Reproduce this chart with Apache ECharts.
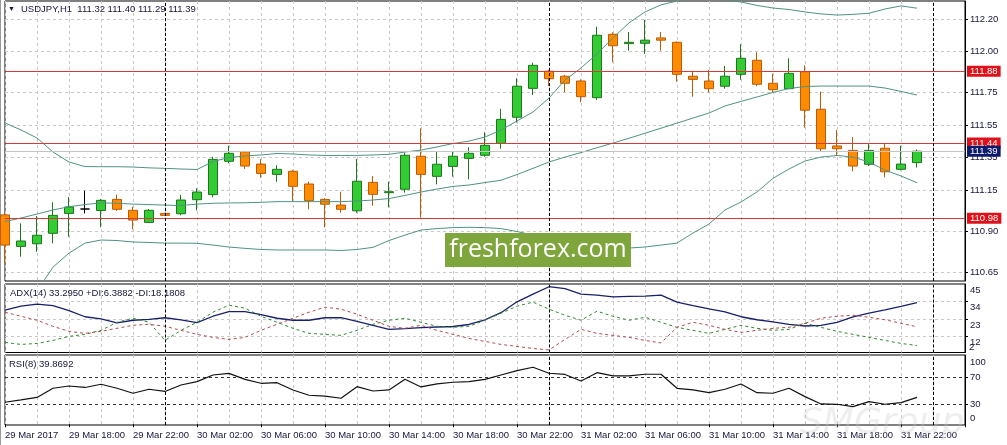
<!DOCTYPE html>
<html>
<head>
<meta charset="utf-8">
<script src="https://cdn.jsdelivr.net/npm/echarts@6/dist/echarts.min.js"></script>
<style>
html,body{margin:0;padding:0;background:#fff;}
#chart{width:1007px;height:445px;}
</style>
</head>
<body>
<div id="chart"></div>
<script>
// ---------- data ----------
const timeLabels = ['29 Mar 2017','29 Mar 18:00','29 Mar 22:00','30 Mar 02:00','30 Mar 06:00','30 Mar 10:00','30 Mar 14:00','30 Mar 18:00','30 Mar 22:00','31 Mar 02:00','31 Mar 06:00','31 Mar 10:00','31 Mar 14:00','31 Mar 18:00','31 Mar 22:00'];
const slotCount = 61; // hourly slots from 29 Mar 14:00 (58 candles + empty right margin)
const daySeparators = [10, 34, 58];

const opens  = [111.000,110.807,110.823,110.887,111.009,111.036,111.027,111.095,111.028,110.954,111.009,111.007,111.093,111.124,111.328,111.387,111.311,111.248,111.267,111.189,111.095,111.060,111.025,111.199,111.136,111.157,111.359,111.236,111.297,111.346,111.365,111.438,111.598,111.775,111.880,111.849,111.820,111.718,112.106,112.049,112.051,112.084,112.057,111.849,111.820,111.788,111.861,111.947,111.806,111.773,111.877,111.647,111.422,111.395,111.310,111.408,111.279,111.320];
const highs  = [111.010,110.948,110.993,111.077,111.109,111.148,111.097,111.124,111.050,111.036,111.012,111.122,111.163,111.356,111.424,111.392,111.342,111.304,111.275,111.203,111.103,111.142,111.342,111.238,111.203,111.381,111.530,111.391,111.391,111.414,111.506,111.649,111.837,111.932,111.888,111.857,111.830,112.153,112.118,112.120,112.194,112.120,112.062,111.883,111.888,111.912,112.045,111.996,111.865,111.959,111.916,111.755,111.520,111.477,111.436,111.436,111.424,111.400];
const lows   = [110.705,110.744,110.774,110.826,110.866,111.009,110.924,111.025,110.911,110.950,110.994,110.997,111.028,111.108,111.316,111.281,111.228,111.203,111.085,111.034,110.924,111.013,111.013,111.056,111.046,111.136,110.983,111.187,111.234,111.218,111.356,111.405,111.565,111.734,111.790,111.751,111.690,111.704,111.935,112.006,111.986,112.006,111.816,111.724,111.751,111.773,111.828,111.788,111.751,111.771,111.534,111.391,111.361,111.267,111.299,111.230,111.273,111.290];
const closes = [110.815,110.840,110.875,110.997,111.048,111.036,111.089,111.034,110.968,111.028,110.997,111.091,111.140,111.340,111.377,111.299,111.254,111.279,111.175,111.087,111.065,111.034,111.206,111.126,111.142,111.365,111.248,111.310,111.359,111.377,111.426,111.585,111.788,111.916,111.834,111.806,111.724,112.100,112.036,112.057,112.070,112.070,111.861,111.830,111.773,111.849,111.959,111.800,111.767,111.867,111.641,111.405,111.405,111.299,111.395,111.264,111.311,111.390];

const bbUpper  = [111.563,111.520,111.471,111.385,111.324,111.296,111.295,111.295,111.293,111.288,111.285,111.281,111.278,111.327,111.351,111.361,111.367,111.376,111.373,111.367,111.364,111.364,111.364,111.367,111.371,111.385,111.397,111.416,111.437,111.452,111.477,111.520,111.575,111.630,111.716,111.826,111.900,111.986,112.084,112.176,112.243,112.286,112.310,112.323,112.329,112.316,112.304,112.283,112.267,112.258,112.243,112.231,112.224,112.228,112.235,112.261,112.280,112.266];
const bbMiddle = [110.959,110.981,111.005,111.030,111.050,111.063,111.074,111.071,111.066,111.063,111.060,111.057,111.066,111.071,111.073,111.074,111.077,111.081,111.081,111.081,111.081,111.081,111.085,111.091,111.100,111.119,111.140,111.158,111.174,111.183,111.198,111.212,111.247,111.285,111.324,111.354,111.382,111.411,111.440,111.469,111.500,111.531,111.562,111.593,111.624,111.667,111.695,111.722,111.750,111.774,111.786,111.789,111.789,111.789,111.789,111.777,111.756,111.734];
const bbLower  = [110.294,110.417,110.533,110.680,110.766,110.827,110.846,110.843,110.834,110.831,110.827,110.827,110.826,110.815,110.803,110.795,110.788,110.785,110.785,110.785,110.785,110.782,110.788,110.801,110.843,110.876,110.907,110.916,110.922,110.924,110.922,110.916,110.898,110.876,110.858,110.840,110.827,110.815,110.803,110.797,110.803,110.815,110.827,110.889,110.944,111.030,111.079,111.140,111.224,111.281,111.330,111.354,111.364,111.354,111.324,111.275,111.238,111.197];

const adx     = [28.56,31.09,32.35,31.40,28.24,24.45,23.06,20.53,22.24,22.74,23.82,22.42,20.78,24.76,27.61,27.61,25.71,23.50,22.24,22.24,23.82,23.82,21.60,19.07,16.54,16.99,17.62,18.00,18.31,19.58,22.55,26.98,33.81,38.68,43.29,42.15,38.68,38.04,36.97,37.22,37.41,38.04,33.62,31.40,29.38,27.48,24.45,22.55,21.16,19.71,18.63,19.07,20.97,24.32,26.66,28.75,30.96,33.30];
const plusDI  = [8.32,7.06,7.69,9.59,12.12,13.38,15.91,20.97,23.50,20.97,9.59,15.91,20.97,27.29,31.72,29.82,24.76,20.97,17.18,14.01,13.38,12.75,15.91,19.71,22.24,23.50,20.97,18.44,17.81,18.44,22.24,26.66,31.09,33.62,29.19,25.40,22.24,27.93,24.76,22.24,24.13,20.97,17.81,15.91,14.01,16.54,19.07,17.18,15.91,16.54,20.34,17.81,15.28,13.38,11.49,9.59,7.69,6.39];
const minusDI = [27.29,24.76,22.24,18.44,15.28,14.01,15.28,17.18,19.07,19.71,18.44,15.91,13.38,11.49,10.22,11.49,15.91,19.71,23.50,27.29,30.46,29.19,26.03,22.24,18.44,17.18,19.07,15.91,13.38,10.85,8.96,7.06,5.79,4.53,3.58,10.22,16.54,14.01,12.75,11.49,9.59,8.01,17.81,20.97,19.07,16.54,14.65,15.91,17.18,17.81,20.34,23.50,24.76,25.40,24.13,22.55,20.34,18.18];
const rsi     = [32.6,36.0,39.7,53.3,56.7,54.5,59.3,53.3,45.9,51.9,48.6,58.2,63.1,73.0,75.3,66.4,60.7,61.6,50.8,43.0,41.6,38.5,55.7,49.3,50.8,66.7,55.3,59.7,62.2,63.1,66.4,73.0,79.4,84.4,75.6,73.8,64.1,76.4,71.6,71.6,74.1,74.1,53.3,50.8,46.8,51.9,59.7,46.8,45.9,53.3,40.9,30.1,29.6,26.1,33.5,29.6,32.0,39.87];

const priceTicks = [112.20, 112.00, 111.75, 111.55, 111.35, 111.15, 110.90, 110.65];
const adxTicks = [45, 34, 23, 12];
const adxMinLabel = 2;
const rsiTicks = [100, 70, 30, 0];
const rsiLevels = [70, 30];
const redLevels = [111.88, 111.44, 110.98];
const bidPrice = 111.39;

const headerText = 'USDJPY,H1  111.32 111.40 111.29 111.39';
const adxText = 'ADX(14) 33.2950 +DI:6.3882 -DI:18.1808';
const rsiText = 'RSI(8) 39.8692';

// ---------- chart ----------
const FONT = 'Tahoma, "Liberation Sans", Arial, sans-serif';
const TXT = '#16163a';
const FS = 9.5;
const slots = Array.from({length: slotCount}, (_, i) => String(i));
const candleData = opens.map((o, i) => [o, closes[i], lows[i], highs[i]]);

const gridLine = {show: true, lineStyle: {color: '#c8c8c8', type: [3, 3], width: 1}};
const sepLines = daySeparators.map(x => ({xAxis: x, lineStyle: {color: '#000', type: [3, 2], width: 1}, label: {show: false}}));

const chart = echarts.init(document.getElementById('chart'), null, {renderer: 'canvas'});

const grids = [
  {left: 5, right: 42, top: 1, height: 280},
  {left: 5, right: 42, top: 284, height: 68.5},
  {left: 5, right: 42, top: 355, height: 70}
].map(g => Object.assign(g, {show: true, borderColor: '#000', borderWidth: 1, backgroundColor: 'transparent'}));

const xAxes = [0, 1, 2].map(i => ({
  type: 'category', gridIndex: i, data: slots, boundaryGap: false,
  axisLine: {show: false},
  axisTick: {show: i === 2, interval: 3, length: 3, lineStyle: {color: '#000'}},
  axisLabel: {
    show: i === 2, interval: 3, align: 'left', margin: 5,
    fontFamily: FONT, fontSize: FS, color: TXT,
    formatter: (v, idx) => timeLabels[idx / 4] || ''
  },
  splitLine: Object.assign({interval: 1}, gridLine)
}));

const rich = {
  t: {padding: [12, 0, 0, 0], fontFamily: FONT, fontSize: FS, color: TXT},
  b: {padding: [0, 0, 12, 0], fontFamily: FONT, fontSize: FS, color: TXT},
  m: {fontFamily: FONT, fontSize: FS, color: TXT}
};

const yAxes = [
  {
    type: 'value', gridIndex: 0, position: 'right', min: 110.595, max: 112.310,
    axisLine: {show: true, lineStyle: {color: '#000'}},
    axisTick: {show: true, length: 3, customValues: priceTicks, lineStyle: {color: '#000'}},
    axisLabel: {customValues: priceTicks, margin: 5, fontFamily: FONT, fontSize: FS, color: TXT, formatter: v => v.toFixed(2)},
    splitLine: gridLine
  },
  {
    type: 'value', gridIndex: 1, position: 'right', min: 2, max: 45,
    axisLine: {show: true, lineStyle: {color: '#000'}},
    axisTick: {show: true, length: 3, customValues: [34, 23, 12], lineStyle: {color: '#000'}},
    axisLabel: {customValues: adxTicks, margin: 5, rich: rich, formatter: v => '{t|' + v + '}'},
    splitLine: gridLine
  },
  {
    type: 'value', gridIndex: 2, position: 'right', min: -1.1, max: 102.6,
    axisLine: {show: true, lineStyle: {color: '#000'}},
    axisTick: {show: true, length: 3, customValues: rsiLevels, lineStyle: {color: '#000'}},
    axisLabel: {
      customValues: rsiTicks, margin: 5, rich: rich,
      formatter: v => v === rsiTicks[0] ? '{t|' + v + '}' : (v === rsiTicks[rsiTicks.length - 1] ? '{b|' + v + '}' : '{m|' + v + '}')
    },
    splitLine: {show: true, lineStyle: {color: '#333', type: [3, 3], width: 1}}
  }
];

const levelBox = (v, bg, lineColor) => ({
  yAxis: v,
  lineStyle: {color: lineColor, type: 'solid', width: 1},
  label: {
    show: true, position: 'end', distance: 2, formatter: v.toFixed(2),
    backgroundColor: bg, color: '#fff', padding: [1, 3, 0, 3], lineHeight: 10,
    fontFamily: FONT, fontSize: FS
  }
});

const bbStyle = {color: '#4f9384', width: 1};

const series = [
  {
    type: 'candlestick', xAxisIndex: 0, yAxisIndex: 0, data: candleData, barWidth: 10,
    itemStyle: {
      color: '#33cc33', color0: '#ff8c00',
      borderColor: '#1d761d', borderColor0: '#b85c0a', borderColorDoji: '#000',
      borderWidth: 1
    },
    markLine: {
      silent: true, symbol: ['none', 'none'], animation: false,
      data: [
        {yAxis: bidPrice, lineStyle: {color: '#c4c4c4', type: 'solid', width: 1}, label: {show: false}},
        ...redLevels.map(v => levelBox(v, '#e01018', '#d83a3a')),
        {yAxis: bidPrice, lineStyle: {color: 'rgba(0,0,0,0)', width: 0},
          label: {show: true, position: 'end', distance: 2, formatter: bidPrice.toFixed(2),
            backgroundColor: '#0c1a6e', color: '#fff', padding: [1, 3, 0, 3], lineHeight: 10,
            fontFamily: FONT, fontSize: FS}},
        ...sepLines
      ]
    }
  },
  {type: 'line', xAxisIndex: 0, yAxisIndex: 0, data: bbUpper, symbol: 'none', lineStyle: bbStyle, silent: true},
  {type: 'line', xAxisIndex: 0, yAxisIndex: 0, data: bbMiddle, symbol: 'none', lineStyle: bbStyle, silent: true},
  {type: 'line', xAxisIndex: 0, yAxisIndex: 0, data: bbLower, symbol: 'none', lineStyle: bbStyle, silent: true},
  {
    type: 'line', xAxisIndex: 1, yAxisIndex: 1, data: adx, symbol: 'none',
    lineStyle: {color: '#18206a', width: 1.3}, silent: true,
    markLine: {silent: true, symbol: ['none', 'none'], animation: false, data: sepLines}
  },
  {type: 'line', xAxisIndex: 1, yAxisIndex: 1, data: plusDI, symbol: 'none', lineStyle: {color: '#2f8a2f', width: 1, type: [3, 3]}, silent: true},
  {type: 'line', xAxisIndex: 1, yAxisIndex: 1, data: minusDI, symbol: 'none', lineStyle: {color: '#b84a4a', width: 1, type: [3, 3]}, silent: true},
  {
    type: 'line', xAxisIndex: 2, yAxisIndex: 2, data: rsi, symbol: 'none',
    lineStyle: {color: '#111', width: 1.2}, silent: true,
    markLine: {silent: true, symbol: ['none', 'none'], animation: false, data: sepLines}
  }
];

const graphic = [
  {type: 'rect', left: 0, top: 0, shape: {width: 1, height: 445}, style: {fill: '#9a9a9a'}, silent: true},
  {type: 'text', x: 8, y: 9, style: {text: '▼', font: '7px ' + FONT, fill: TXT, verticalAlign: 'middle'}, z: 100},
  {type: 'text', x: 21, y: 9, style: {text: headerText, font: FS + 'px ' + FONT, fill: TXT, verticalAlign: 'middle'}, z: 100},
  {type: 'text', x: 10, y: 293, style: {text: adxText, font: FS + 'px ' + FONT, fill: TXT, verticalAlign: 'middle'}, z: 100},
  {type: 'text', x: 9, y: 364, style: {text: rsiText, font: FS + 'px ' + FONT, fill: TXT, verticalAlign: 'middle'}, z: 100},
  {type: 'text', x: 969, y: 347, style: {text: String(adxMinLabel), font: FS + 'px ' + FONT, fill: TXT, verticalAlign: 'middle'}, z: 100},
  {type: 'rect', x: 445, y: 233, shape: {width: 186, height: 34}, style: {fill: '#7fa63c'}, z: 90},
  {type: 'text', x: 538, y: 250, style: {text: 'freshforex.com', font: '25px "Open Sans", sans-serif', fill: '#fff', align: 'center', verticalAlign: 'middle'}, z: 91},
  {type: 'text', x: 800, y: 424, style: {text: 'SMGroup', font: 'italic 36px "DejaVu Sans", sans-serif', fill: 'rgba(200,200,200,0.3)', verticalAlign: 'middle'}, z: 1}
];

chart.setOption({
  animation: false,
  backgroundColor: '#fff',
  grid: grids,
  xAxis: xAxes,
  yAxis: yAxes,
  series: series,
  graphic: graphic
});
</script>
</body>
</html>
